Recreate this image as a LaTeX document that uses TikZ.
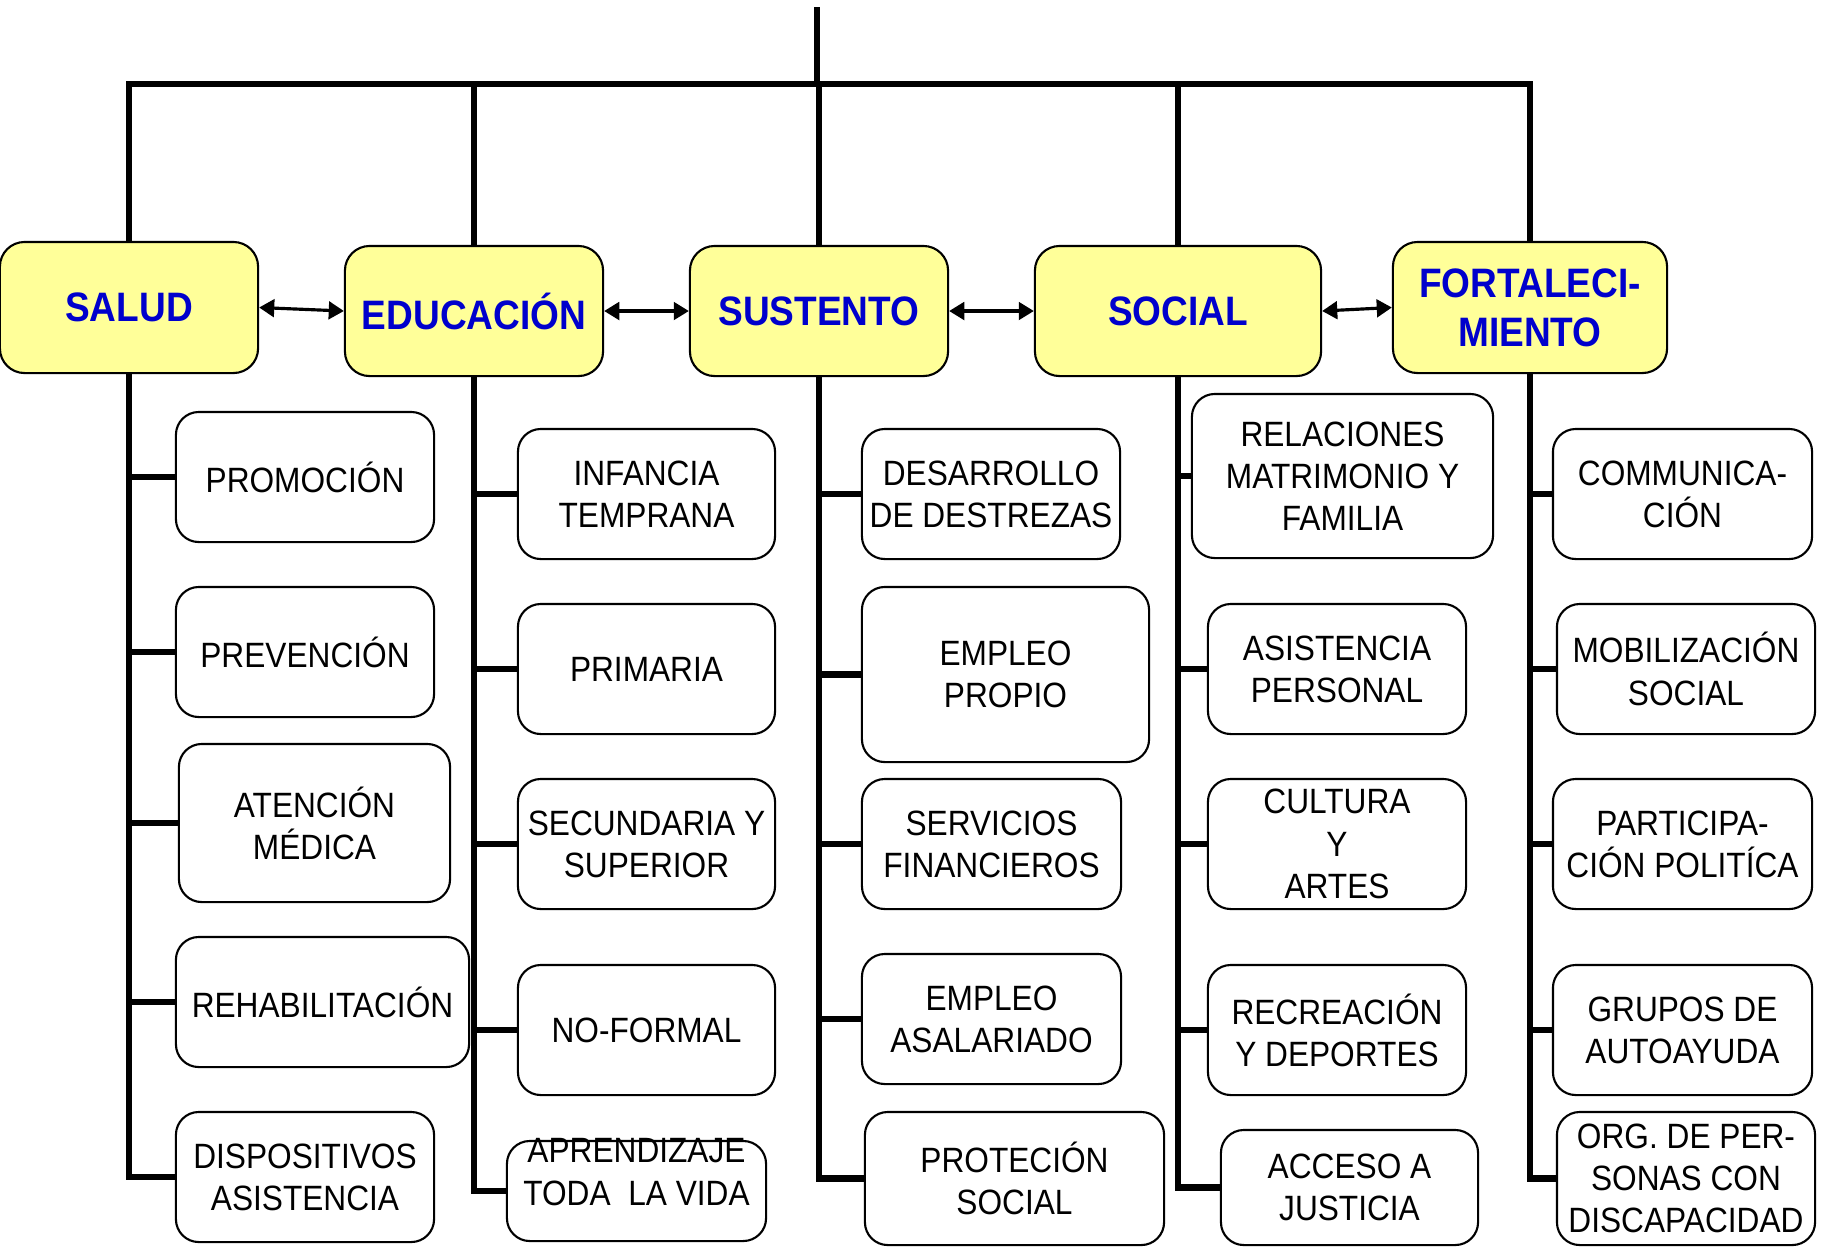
\documentclass[tikz,border=0pt]{standalone}
\usepackage{fontspec}
\setmainfont{Liberation Sans}[FakeStretch=0.9]
\usetikzlibrary{arrows.meta}
\definecolor{areafill}{HTML}{FFFF99}
\definecolor{areatext}{HTML}{0000CC}
\tikzstyle{topic} = [rectangle, rounded corners=7pt, minimum width=2.58cm, minimum height=1.30cm, align=center, draw=black, line width=0.6pt, fill=areafill, text=areatext, inner sep=1pt, font=\fontsize{11.7}{14}\selectfont\bfseries]
\tikzstyle{subtopic} = [rectangle, rounded corners=6.5pt, minimum width=2.58cm, minimum height=1.30cm, align=center, draw=black, line width=0.6pt, fill=white, inner sep=1pt, font=\fontsize{10}{12}\selectfont]
\tikzstyle{trunk} = [line width=1.9pt]
\tikzstyle{link} = [line width=0.9pt, <->, >={Triangle[length=4.3pt,width=5pt]}]

\begin{document}
\begin{tikzpicture}[x=0.01cm, y=-0.01cm]
\useasboundingbox (0,0) rectangle (1824,1247);

\coordinate (top) at (817,7);
\coordinate (bar) at (817,84);

% areas
\node (1) [topic, minimum height=1.31cm] at (129,307.5) {SALUD};
\node (2) [topic] at (474,311) {EDUCACIÓN};
\node (3) [topic] at (819,311) {SUSTENTO};
\node (4) [topic, minimum width=2.86cm] at (1178,311) {SOCIAL};
\node (5) [topic, minimum width=2.74cm, minimum height=1.31cm] at (1530,307.5) {FORTALECI-\\MIENTO};

% salud
\node (11) [subtopic] at (305,477) {PROMOCIÓN};
\node (12) [subtopic] at (305,652) {PREVENCIÓN};
\node (13) [subtopic, minimum width=2.71cm, minimum height=1.58cm] at (314.5,823) {ATENCIÓN\\MÉDICA};
\node (14) [subtopic, minimum width=2.93cm] at (322.5,1002) {REHABILITACIÓN};
\node (15) [subtopic] at (305,1177) {DISPOSITIVOS\\ASISTENCIA};

% educacion
\node (21) [subtopic, minimum width=2.57cm] at (646.5,494) {INFANCIA\\TEMPRANA};
\node (22) [subtopic, minimum width=2.57cm] at (646.5,669) {PRIMARIA};
\node (23) [subtopic, minimum width=2.57cm] at (646.5,844) {SECUNDARIA Y\\SUPERIOR};
\node (24) [subtopic, minimum width=2.57cm] at (646.5,1030) {NO-FORMAL};
\node (25) [subtopic, minimum width=2.59cm, minimum height=1.00cm, label={[align=center, font=\fontsize{10}{12}\selectfont, yshift=5.4pt]center:APRENDIZAJE\\TODA\ \ LA VIDA}] at (636.5,1191) {};

% sustento
\node (31) [subtopic] at (991,494) {DESARROLLO\\DE DESTREZAS};
\node (32) [subtopic, minimum width=2.87cm, minimum height=1.75cm] at (1005.5,674.5) {EMPLEO\\PROPIO};
\node (33) [subtopic, minimum width=2.59cm] at (991.5,844) {SERVICIOS\\FINANCIEROS};
\node (34) [subtopic, minimum width=2.59cm] at (991.5,1019) {EMPLEO\\ASALARIADO};
\node (35) [subtopic, minimum width=2.99cm, minimum height=1.33cm] at (1014.5,1178.5) {PROTECIÓN\\SOCIAL};

% social
\node (41) [subtopic, minimum width=3.01cm, minimum height=1.64cm] at (1342.5,476) {RELACIONES\\MATRIMONIO Y\\FAMILIA};
\node (42) [subtopic] at (1337,669) {ASISTENCIA\\PERSONAL};
\node (43) [subtopic] at (1337,844) {CULTURA\\Y\\ARTES};
\node (44) [subtopic] at (1337,1030) {RECREACIÓN\\Y DEPORTES};
\node (45) [subtopic, minimum width=2.57cm, minimum height=1.15cm] at (1349.5,1187.5) {ACCESO A\\JUSTICIA};

% fortalecimiento
\node (51) [subtopic, minimum width=2.59cm] at (1682.5,494) {COMMUNICA-\\CIÓN};
\node (52) [subtopic] at (1686,669) {MOBILIZACIÓN\\SOCIAL};
\node (53) [subtopic, minimum width=2.59cm] at (1682.5,844) {PARTICIPA-\\CIÓN POLITÍCA};
\node (54) [subtopic, minimum width=2.59cm] at (1682.5,1030) {GRUPOS DE\\AUTOAYUDA};
\node (55) [subtopic, minimum height=1.33cm] at (1686,1178.5) {ORG. DE PER-\\SONAS CON\\DISCAPACIDAD};

% top tree
\draw [trunk] (top) -- (bar);
\draw [trunk] (1.north) -- (1.north |- bar) -- (5.north |- bar) -- (5.north);
\draw [trunk] (2.north) -- (2.north |- bar);
\draw [trunk] (3.north) -- (3.north |- bar);
\draw [trunk] (4.north) -- (4.north |- bar);

\draw [link] (1.east) -- (2.west);
\draw [link] (2.east) -- (3.west);
\draw [link] (3.east) -- (4.west);
\draw [link] (4.east) -- (5.west);

% columns
\draw [trunk] (1.south) |- (15.west);
\draw [trunk] (1.south |- 11.west) -- (11.west);
\draw [trunk] (1.south |- 12.west) -- (12.west);
\draw [trunk] (1.south |- 13.west) -- (13.west);
\draw [trunk] (1.south |- 14.west) -- (14.west);

\draw [trunk] (2.south) |- (25.west);
\draw [trunk] (2.south |- 21.west) -- (21.west);
\draw [trunk] (2.south |- 22.west) -- (22.west);
\draw [trunk] (2.south |- 23.west) -- (23.west);
\draw [trunk] (2.south |- 24.west) -- (24.west);

\draw [trunk] (3.south) |- (35.west);
\draw [trunk] (3.south |- 31.west) -- (31.west);
\draw [trunk] (3.south |- 32.west) -- (32.west);
\draw [trunk] (3.south |- 33.west) -- (33.west);
\draw [trunk] (3.south |- 34.west) -- (34.west);

\draw [trunk] (4.south) |- (45.west);
\draw [trunk] (4.south |- 41.west) -- (41.west);
\draw [trunk] (4.south |- 42.west) -- (42.west);
\draw [trunk] (4.south |- 43.west) -- (43.west);
\draw [trunk] (4.south |- 44.west) -- (44.west);

\draw [trunk] (5.south) |- (55.west);
\draw [trunk] (5.south |- 51.west) -- (51.west);
\draw [trunk] (5.south |- 52.west) -- (52.west);
\draw [trunk] (5.south |- 53.west) -- (53.west);
\draw [trunk] (5.south |- 54.west) -- (54.west);

\end{tikzpicture}
\end{document}
